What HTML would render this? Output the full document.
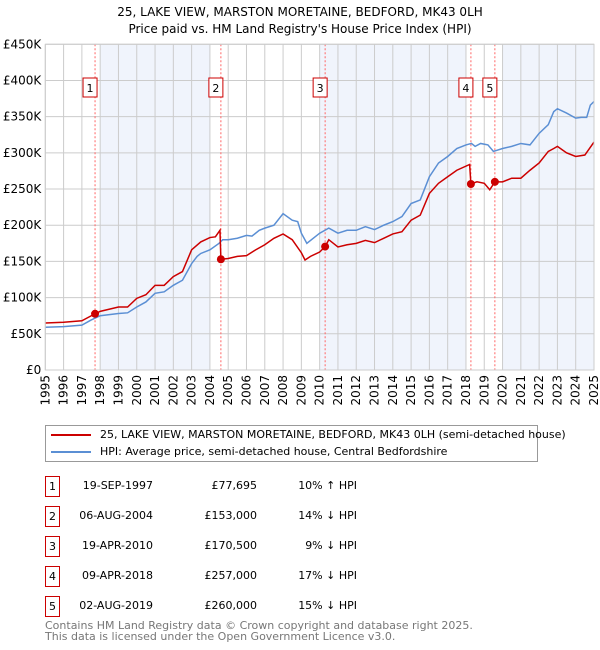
<!DOCTYPE html>
<html><head><meta charset="utf-8"><style>
body{margin:0;background:#fff;font-family:"DejaVu Sans","Liberation Sans",sans-serif;}
#wrap{position:relative;width:600px;height:650px;overflow:hidden}
.t{position:absolute;font-size:11px;color:#000;white-space:nowrap}
.box{position:absolute;width:13px;height:19px;border:1px solid #c00;font-size:11px;text-align:center;line-height:19px}
svg text{font-family:"DejaVu Sans","Liberation Sans",sans-serif}
</style></head><body><div id="wrap">
<div class="t" style="left:0;width:600px;text-align:center;top:4px;font-size:12px;line-height:17px">25, LAKE VIEW, MARSTON MORETAINE, BEDFORD, MK43 0LH<br>Price paid vs. HM Land Registry's House Price Index (HPI)</div>
<svg id="chart" width="600" height="410" style="position:absolute;left:0;top:0"></svg>
<div style="position:absolute;left:45px;top:425px;width:491px;height:35px;border:1px solid #999">
<div style="position:absolute;left:5px;top:2px;font-size:11px;white-space:nowrap"><span style="display:inline-block;width:40px;height:2px;background:#c00;vertical-align:middle;margin-right:9px"></span>25, LAKE VIEW, MARSTON MORETAINE, BEDFORD, MK43 0LH (semi-detached house)</div>
<div style="position:absolute;left:5px;top:19px;font-size:11px;white-space:nowrap"><span style="display:inline-block;width:40px;height:2px;background:#5b8fd4;vertical-align:middle;margin-right:9px"></span>HPI: Average price, semi-detached house, Central Bedfordshire</div>
</div>
<div id="table"></div>
<div class="t" style="left:45px;top:620px;color:#777;font-size:11px;line-height:11px">Contains HM Land Registry data © Crown copyright and database right 2025.<br>This data is licensed under the Open Government Licence v3.0.</div>
</div>
<script>
const hpiYears=[1995,1996,1996.5,1997,1997.5,1998,1999,1999.5,2000,2000.5,2001,2001.5,2002,2002.5,2003,2003.3,2003.5,2004,2004.5,2004.7,2005,2005.5,2006,2006.3,2006.7,2007,2007.5,2008,2008.5,2008.8,2009,2009.3,2010,2010.5,2011,2011.5,2012,2012.5,2013,2013.5,2014,2014.5,2015,2015.5,2016,2016.5,2017,2017.5,2018,2018.3,2018.5,2018.8,2019.2,2019.5,2020,2020.5,2021,2021.5,2022,2022.5,2022.8,2023,2023.5,2024,2024.3,2024.6,2024.8,2025];
const hpiValues=[59,60,61,62,69,75,78,79,87,94,106,108,117,124,147,157,161,166,175,180,180,182,186,185,193,196,200,216,207,205,189,175,189,196,189,193,193,198,194,200,205,212,230,235,267,286,295,306,311,313,309,313,311,302,306,309,313,311,327,339,357,361,355,348,349,349,366,371];
const priceYears=[1995,1996,1997,1997.72,1998,1999,1999.5,2000,2000.5,2001,2001.5,2002,2002.5,2003,2003.5,2004,2004.3,2004.55,2004.6,2005,2005.5,2006,2006.5,2007,2007.5,2008,2008.5,2009,2009.2,2009.5,2010,2010.3,2010.5,2011,2011.5,2012,2012.5,2013,2013.5,2014,2014.5,2015,2015.5,2016,2016.5,2017,2017.5,2018.2,2018.27,2018.6,2019,2019.3,2019.58,2020,2020.5,2021,2021.5,2022,2022.5,2022.8,2023,2023.5,2024,2024.5,2025];
const priceValues=[65,66,68,77.7,81,87,87,99,104,117,117,129,136,166,177,183,184,193,153,154,157,158,166,173,182,188,180,162,152,157,163,170.5,180,170,173,175,179,176,182,188,191,207,214,244,258,267,276,284,257,260,258,249,260,260,265,265,276,286,302,306,309,300,295,297,315];
const saleYears=[1997.72,2004.6,2010.3,2018.27,2019.58];
const saleValues=[77.695,153,170.5,257,260];
const saleLabels=["1","2","3","4","5"];
const saleDates=["19-SEP-1997","06-AUG-2004","19-APR-2010","09-APR-2018","02-AUG-2019"];
const salePrices=["£77,695","£153,000","£170,500","£257,000","£260,000"];
const saleHpi=["10% ↑ HPI","14% ↓ HPI","9% ↓ HPI","17% ↓ HPI","15% ↓ HPI"];
const bandStarts=[1998,2010,2020];
const bandEnds=[2004,2018,2025];
const yTicks=[0,50,100,150,200,250,300,350,400,450];
const yTickLabels=["£0","£50K","£100K","£150K","£200K","£250K","£300K","£350K","£400K","£450K"];
const xTicks=[1995,1996,1997,1998,1999,2000,2001,2002,2003,2004,2005,2006,2007,2008,2009,2010,2011,2012,2013,2014,2015,2016,2017,2018,2019,2020,2021,2022,2023,2024,2025];

const X0=45.3,X1=594,Y0=370,Y1=44.3;
const xs=y=>X0+(y-1995)/30*(X1-X0);
const ys=v=>Y0-v/450*(Y0-Y1);
const svg=document.getElementById('chart');
const NS='http://www.w3.org/2000/svg';
function mk(tag,attrs,parent){const e=document.createElementNS(NS,tag);for(const k in attrs)e.setAttribute(k,attrs[k]);(parent||svg).appendChild(e);return e;}
bandStarts.forEach((s,i)=>{const r=mk('rect',{x:xs(s),y:Y1,width:xs(bandEnds[i])-xs(s),height:Y0-Y1,fill:'#f0f4fc'});

});
yTicks.forEach((v,i)=>{const l=mk('line',{x1:X0,x2:X1,y1:ys(v),y2:ys(v),stroke:'#ccc','stroke-width':1});


const t=mk('text',{x:X0-4,y:ys(v)+4,'text-anchor':'end','font-size':12,fill:'#000'});t.textContent=yTickLabels[i];

});
xTicks.forEach(y=>{const l=mk('line',{x1:xs(y),x2:xs(y),y1:Y1,y2:Y0,stroke:'#ccc','stroke-width':1});


const t=mk('text',{x:0,y:0,'text-anchor':'end','font-size':12,fill:'#000',transform:`translate(${xs(y)+4},${Y0+5}) rotate(-90)`});t.textContent=y;

});
saleYears.forEach((y,i)=>{const l=mk('line',{x1:xs(y),x2:xs(y),y1:Y1,y2:Y0,stroke:'#f66','stroke-width':1,'stroke-dasharray':'2,2'});


const r=mk('rect',{x:xs(y)-12,y:78,width:14,height:19,fill:'#fff',stroke:'#c00'});


const t=mk('text',{x:xs(y)-5,y:92,'text-anchor':'middle','font-size':11});t.textContent=saleLabels[i];

});
const hp=mk('polyline',{points:hpiYears.map((y,i)=>xs(y)+','+ys(hpiValues[i])).join(' '),fill:'none',stroke:'#5b8fd4','stroke-width':1.5});


const pp=mk('polyline',{points:priceYears.map((y,i)=>xs(y)+','+ys(priceValues[i])).join(' '),fill:'none',stroke:'#c00','stroke-width':1.5});


saleYears.forEach((y,i)=>{const c=mk('circle',{cx:xs(y),cy:ys(saleValues[i]),r:4,fill:'#c00'});

});
const ax=mk('rect',{x:X0,y:Y1,width:X1-X0,height:Y0-Y1,fill:'none',stroke:'#ccc'});


const tb=document.getElementById('table');
saleLabels.forEach((s,i)=>{const top=476+i*30;
const b=document.createElement('div');b.className='box';b.style.left='45px';b.style.top=top+'px';b.textContent=s;

tb.appendChild(b);
[[saleDates[i],153],[salePrices[i],257],[saleHpi[i],357]].forEach(([txt,r])=>{const d=document.createElement('div');d.className='t';d.style.right=(600-r)+'px';d.style.top=(top+3)+'px';d.textContent=txt;

tb.appendChild(d);});});
</script></body></html>
